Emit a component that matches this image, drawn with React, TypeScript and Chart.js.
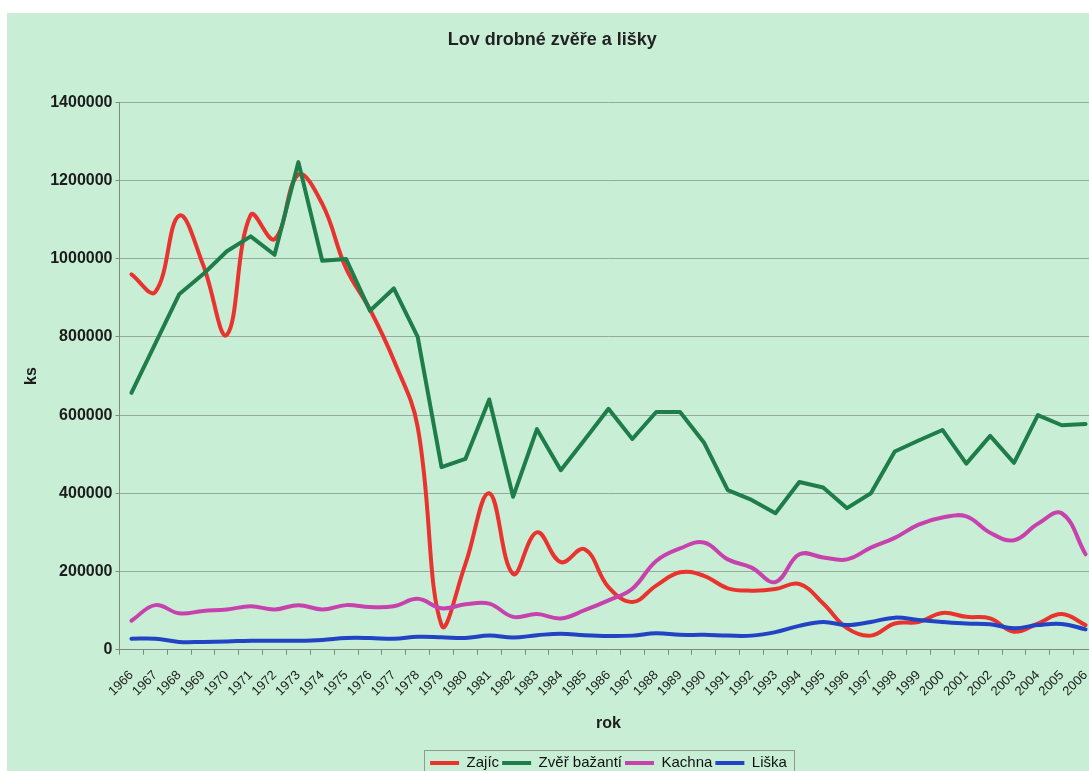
import React, { useEffect, useRef } from "react";
import { Chart, registerables } from "chart.js";

Chart.register(...registerables);

const years = [
  "1966", "1967", "1968", "1969", "1970", "1971", "1972", "1973", "1974", "1975",
  "1976", "1977", "1978", "1979", "1980", "1981", "1982", "1983", "1984", "1985",
  "1986", "1987", "1988", "1989", "1990", "1991", "1992", "1993", "1994", "1995",
  "1996", "1997", "1998", "1999", "2000", "2001", "2002", "2003", "2004", "2005", "2006",
];

const zajic = [
  960000, 915000, 1110000, 985000, 805000, 1112000, 1050000, 1215000, 1140000, 975000,
  870000, 740000, 570000, 63000, 219000, 400000, 194000, 300000, 224000, 257000,
  160000, 122000, 164000, 198000, 189000, 157000, 151000, 155000, 168000, 118000,
  55000, 36000, 67000, 71000, 94000, 84000, 80000, 46000, 67000, 91000, 63000,
];

const zverBazanti = [
  657000, 783000, 909000, 960000, 1019000, 1057000, 1010000, 1247000, 995000, 999000,
  867000, 924000, 800000, 467000, 488000, 640000, 391000, 564000, 459000, 537000,
  616000, 539000, 608000, 608000, 530000, 408000, 383000, 349000, 429000, 415000,
  362000, 400000, 507000, 535000, 562000, 476000, 547000, 478000, 600000, 574000, 577000,
];

const kachna = [
  74000, 114000, 93000, 99000, 103000, 111000, 103000, 114000, 103000, 114000,
  109000, 111000, 130000, 106000, 116000, 118000, 84000, 91000, 80000, 101000,
  126000, 156000, 227000, 259000, 274000, 231000, 210000, 173000, 244000, 236000,
  231000, 261000, 286000, 320000, 338000, 341000, 299000, 280000, 322000, 349000, 244000,
];

const liska = [
  28000, 28000, 20000, 20000, 21000, 23000, 23000, 23000, 25000, 30000,
  30000, 28000, 33000, 32000, 30000, 36000, 31000, 37000, 41000, 37000,
  35000, 36000, 42000, 38000, 38000, 36000, 36000, 45000, 61000, 71000,
  63000, 71000, 82000, 76000, 71000, 67000, 65000, 55000, 63000, 66000, 52000,
];

const seriesNames = ["Zajíc", "Zvěř bažantí", "Kachna", "Liška"];
const yTicks = [0, 200000, 400000, 600000, 800000, 1000000, 1200000, 1400000];

const BG = "#c8efd6";
const GRID = "#96a99d";
const AXIS = "#7b8b81";
const TEXT = "#1c1c1c";
const FONT = "'Liberation Sans', Arial, sans-serif";

export default function App() {
  const ref = useRef<HTMLCanvasElement | null>(null);

  useEffect(() => {
    if (!ref.current) return;

    const bgPlugin = {
      id: "bgFill",
      beforeDraw(chart: any) {
        const { ctx, width, height } = chart;
        ctx.save();
        ctx.fillStyle = BG;
        ctx.fillRect(0, 0, width, height);
        ctx.restore();
      },
    };

    const legendBox = {
      id: "legendBox",
      afterDraw(chart: any) {
        const lg = chart.legend;
        const hb = lg && lg.legendHitBoxes;
        if (!hb || !hb.length) return;
        const { ctx } = chart;
        const l = hb[0].left - 6;
        const last = hb[hb.length - 1];
        const r = last.left + last.width + 7;
        const t = hb[0].top - 5;
        const b = t + 40;
        ctx.save();
        ctx.strokeStyle = "#8d9c93";
        ctx.lineWidth = 1;
        ctx.strokeRect(Math.round(l) + 0.5, Math.round(t) + 0.5, Math.round(r - l), Math.round(b - t));
        ctx.restore();
      },
    };

    const mk = (label: string, data: number[], color: string, tension: number) => ({
      label,
      data,
      borderColor: color,
      backgroundColor: color,
      borderWidth: 4,
      pointRadius: 0,
      pointHoverRadius: 0,
      tension,
      fill: false,
      borderCapStyle: "round" as const,
      borderJoinStyle: "round" as const,
    });

    const chart = new Chart(ref.current, {
      type: "line",
      data: {
        labels: years,
        datasets: [
          { ...mk(seriesNames[0], zajic, "#e8332e", 0.4), order: 4 },
          { ...mk(seriesNames[1], zverBazanti, "#1f7d4a", 0), order: 3 },
          { ...mk(seriesNames[2], kachna, "#c842ad", 0.4), order: 2 },
          { ...mk(seriesNames[3], liska, "#2143c4", 0.4), order: 1 },
        ],
      },
      options: {
        responsive: false,
        animation: false,
        events: [],
        layout: { padding: { left: 0, right: 9.5, top: 0, bottom: 7.5 } },
        plugins: {
          title: {
            display: true,
            text: "Lov drobné zvěře a lišky",
            color: "#222",
            font: { family: FONT, size: 18, weight: "bold" },
            padding: { top: 16, bottom: 51.7 },
          },
          legend: {
            position: "bottom",
            fullSize: false,
            labels: {
              usePointStyle: true,
              pointStyle: "line",
              pointStyleWidth: 29,
              boxHeight: 4,
              padding: 3,
              color: "#111",
              font: { family: FONT, size: 15 },
              sort: (a: any, b: any) => a.datasetIndex - b.datasetIndex,
            },
          },
          tooltip: { enabled: false },
        },
        scales: {
          x: {
            offset: true,
            grid: { offset: true, drawOnChartArea: false, tickColor: AXIS, tickLength: 5 },
            border: { color: AXIS, width: 1 },
            ticks: {
              autoSkip: false,
              minRotation: 45,
              maxRotation: 45,
              color: TEXT,
              padding: 13,
              font: { family: FONT, size: 13 },
            },
            title: {
              display: true,
              text: "rok",
              color: TEXT,
              font: { family: FONT, size: 16, weight: "bold" },
              padding: { top: 0, bottom: 19.4 },
            },
            afterFit: (s: any) => {
              s.height = 102.8;
              s.paddingRight = 0;
              s.paddingLeft = 0;
            },
          },
          y: {
            min: 0,
            max: 1400000,
            afterBuildTicks: (s: any) => {
              s.ticks = yTicks.map((v) => ({ value: v }));
            },
            ticks: {
              color: TEXT,
              padding: 3,
              font: { family: FONT, size: 16, weight: "bold" },
              callback: (v: any) => String(v),
            },
            grid: { color: GRID, tickColor: AXIS, tickLength: 4, lineWidth: 1 },
            border: { color: AXIS, width: 1 },
            title: {
              display: true,
              text: "ks",
              color: TEXT,
              font: { family: FONT, size: 16, weight: "bold" },
              padding: { top: 14.5, bottom: 0 },
            },
            afterFit: (s: any) => {
              s.width = 112.5;
            },
          },
        },
      },
      plugins: [bgPlugin, legendBox],
    } as any);

    return () => chart.destroy();
  }, []);

  return (
    <div
      style={{
        position: "fixed",
        left: 0,
        top: 0,
        width: 1089,
        height: 771,
        overflow: "hidden",
        background: "#ffffff",
      }}
    >
      <div style={{ position: "absolute", left: 7, top: 13, width: 1100, height: 775 }}>
        <canvas ref={ref} width={1100} height={775} style={{ display: "block" }} />
      </div>
    </div>
  );
}
